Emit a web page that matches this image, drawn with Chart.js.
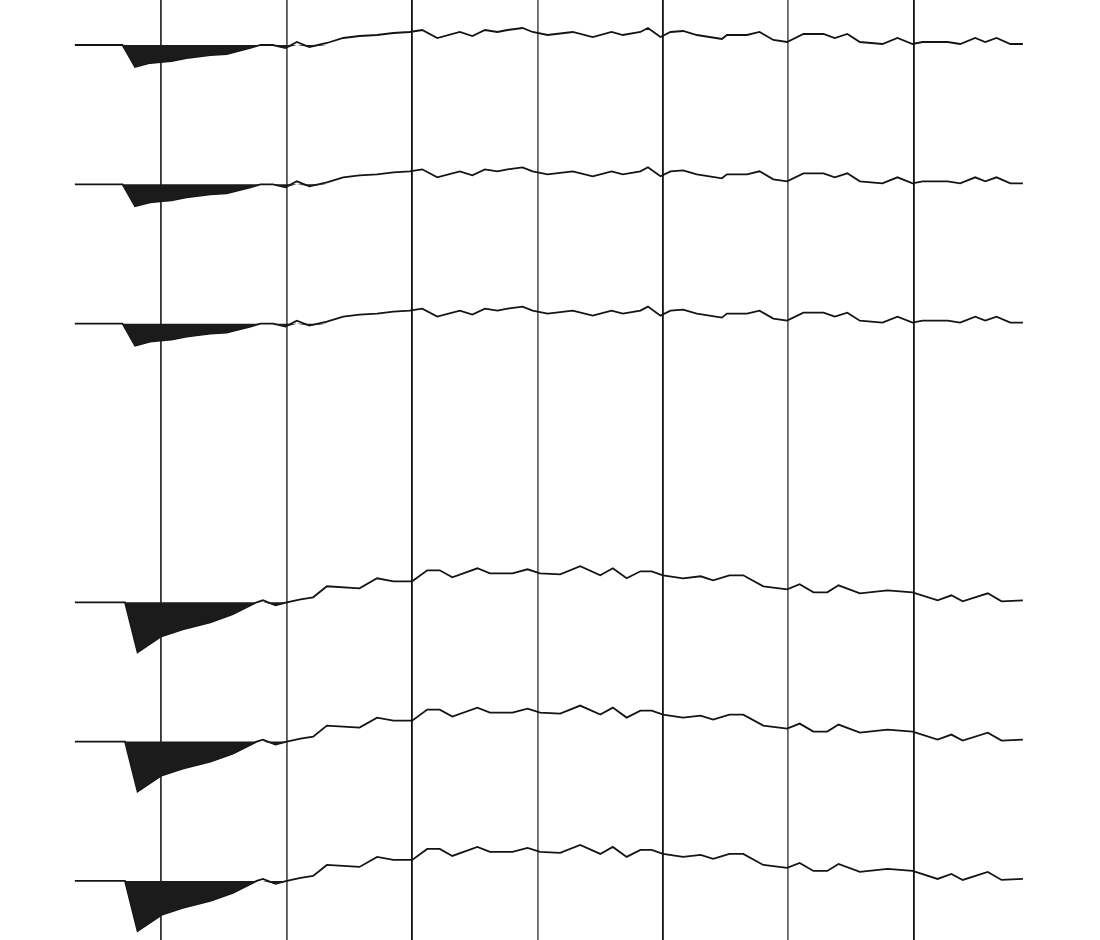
<!DOCTYPE html>
<html>
<head>
<meta charset="utf-8">
<script src="https://cdn.jsdelivr.net/npm/chart.js@4/dist/chart.umd.min.js"></script>
<style>
    html, body { margin: 0; padding: 0; background: #fff; }
    #wrap { width: 1100px; height: 940px; }
</style>
</head>
<body>
<div id="wrap"><canvas id="chart" width="1100" height="940"></canvas></div>
<script>
// Time lines (ms)
const timeLines = [100, 200, 300, 400, 500, 600, 700];
const timeLineColors = ['#333', '#555', '#111', '#666', '#111', '#666', '#111'];

// Upper wavelet (traces 1-3): time (ms) and amplitude
const timesA = [31, 69, 79, 91, 99, 108, 120, 139, 152, 171, 179, 189, 199, 208, 218, 232, 245, 258, 272, 285,
    298, 308, 320, 338, 348, 358, 368, 376, 388, 396, 408, 428, 444, 459, 468, 482, 488, 498, 506, 516,
    527, 547, 551, 567, 577, 588, 599, 612, 628, 637, 647, 657, 675, 687, 699, 707, 727, 737, 749, 757,
    766, 777, 787];
const ampA = [0, 0, -22, -18, -17, -16, -13, -10, -9, -3, 0, 0, -3, 3, -2, 2, 7, 9, 10, 12,
    13, 15, 7, 13, 9, 15, 13, 15, 17, 13, 10, 13, 8, 13, 10, 13, 17, 8, 13, 14,
    10, 6, 10, 10, 13, 5, 3, 11, 11, 7, 11, 3, 1, 7, 1, 3, 3, 1, 7, 3,
    7, 1, 1];

// Lower wavelet (traces 4-6)
const timesB = [31, 71, 81, 100, 117, 139, 157, 176, 181, 191, 200, 211, 221, 232, 258, 272, 285, 300, 312, 322,
    332, 352, 362, 380, 392, 402, 418, 434, 450, 460, 471, 482, 491, 500, 516, 530, 540, 553, 564, 580,
    599, 609, 620, 631, 640, 657, 679, 699, 719, 730, 739, 759, 770, 787];
const ampB = [0, 0, -50, -34, -27, -20, -12, 0, 2, -3, 0, 3, 5, 16, 14, 24, 21, 21, 32, 32,
    25, 34, 29, 29, 33, 29, 28, 36, 27, 34, 24, 31, 31, 27, 24, 26, 22, 27, 27, 16,
    13, 18, 10, 10, 17, 9, 12, 10, 2, 7, 1, 9, 1, 2];

// Trace slots (slot 4 left empty) and which wavelet each one shows
const traceSlots = [1, 2, 3, 5, 6, 7];
const traceWavelets = ['A', 'A', 'A', 'B', 'B', 'B'];
const ampPerSlot = 139.3;

const wavelets = {
    A: { times: timesA, amps: ampA },
    B: { times: timesB, amps: ampB },
};

const datasets = [];
traceSlots.forEach((slot, i) => {
    const w = wavelets[traceWavelets[i]];

    // variable-area shading: negative part only, filled up to the trace baseline
    datasets.push({
        label: 'Area ' + (i + 1),
        data: w.times.map((t, j) => ({ x: t, y: slot - Math.min(w.amps[j], 0) / ampPerSlot })),
        borderWidth: 0,
        borderColor: 'rgba(0,0,0,0)',
        backgroundColor: '#1b1b1b',
        pointRadius: 0,
        tension: 0,
        fill: { target: { value: slot } },
    });

    // wiggle line
    datasets.push({
        label: 'Trace ' + (i + 1),
        data: w.times.map((t, j) => ({ x: t, y: slot - w.amps[j] / ampPerSlot })),
        borderColor: '#141414',
        borderWidth: 1.8,
        pointRadius: 0,
        tension: 0,
        fill: false,
    });
});

new Chart(document.getElementById('chart'), {
    type: 'line',
    data: { datasets },
    options: {
        responsive: false,
        animation: false,
        layout: { padding: 0 },
        plugins: {
            legend: { display: false },
            tooltip: { enabled: false },
        },
        scales: {
            x: {
                type: 'linear',
                min: -28.7,
                max: 848.5,
                afterBuildTicks: (scale) => {
                    scale.ticks = timeLines.map((v) => ({ value: v }));
                },
                ticks: { display: false },
                border: { display: false },
                grid: {
                    drawTicks: false,
                    lineWidth: 1.8,
                    color: (ctx) => timeLineColors[ctx.index] || '#333',
                },
            },
            y: {
                type: 'linear',
                reverse: true,
                min: 0.677,
                max: 7.424,
                display: false,
            },
        },
    },
});
</script>
</body>
</html>
